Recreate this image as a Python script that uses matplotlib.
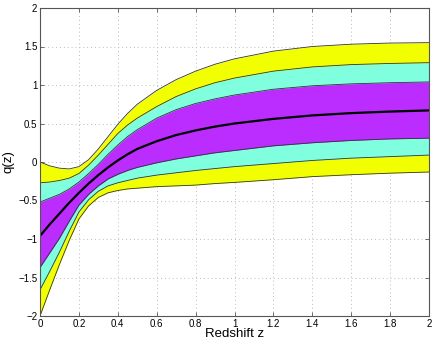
import matplotlib
matplotlib.use("Agg")
import matplotlib.pyplot as plt

z = [0, 0.05, 0.1, 0.15, 0.2, 0.25, 0.3, 0.35, 0.4, 0.45, 0.5, 0.6, 0.7, 0.8, 0.9, 1.0, 1.2, 1.4, 1.6, 1.8, 2.0]
q_up3 = [0.0, -0.05, -0.08, -0.09, -0.06, 0.03, 0.17, 0.33, 0.49, 0.63, 0.75, 0.93, 1.07, 1.18, 1.27, 1.34, 1.44, 1.50, 1.53, 1.545, 1.55]
q_up2 = [-0.27, -0.26, -0.24, -0.21, -0.15, -0.04, 0.09, 0.23, 0.37, 0.48, 0.57, 0.72, 0.85, 0.95, 1.03, 1.09, 1.18, 1.235, 1.265, 1.28, 1.29]
q_up1 = [-0.52, -0.47, -0.42, -0.35, -0.26, -0.15, -0.03, 0.10, 0.22, 0.33, 0.42, 0.57, 0.68, 0.76, 0.82, 0.87, 0.945, 0.99, 1.015, 1.03, 1.04]
q_mean = [-0.96, -0.81, -0.67, -0.53, -0.40, -0.28, -0.17, -0.07, 0.02, 0.10, 0.17, 0.27, 0.35, 0.41, 0.46, 0.50, 0.56, 0.605, 0.635, 0.655, 0.67]
q_lo1 = [-1.37, -1.18, -0.99, -0.77, -0.56, -0.42, -0.31, -0.22, -0.16, -0.11, -0.07, -0.01, 0.04, 0.08, 0.12, 0.15, 0.21, 0.25, 0.28, 0.30, 0.31]
q_lo2 = [-1.66, -1.42, -1.17, -0.90, -0.65, -0.49, -0.38, -0.31, -0.27, -0.24, -0.21, -0.17, -0.14, -0.11, -0.085, -0.06, -0.02, 0.02, 0.05, 0.07, 0.09]
q_lo3 = [-2.0, -1.66, -1.33, -1.02, -0.74, -0.57, -0.46, -0.40, -0.37, -0.35, -0.34, -0.32, -0.31, -0.30, -0.28, -0.265, -0.23, -0.19, -0.165, -0.145, -0.13]

xticks = [0, 0.2, 0.4, 0.6, 0.8, 1, 1.2, 1.4, 1.6, 1.8, 2]
yticks = [-2, -1.5, -1, -0.5, 0, 0.5, 1, 1.5, 2]

plt.rcParams['font.family'] = ['Liberation Sans', 'DejaVu Sans']

fig = plt.figure(figsize=(4.36, 3.44), dpi=100)
ax = fig.add_axes([40/436, 1-316/344, 389/436, 308/344])

yellow = '#f2ff00'
teal = '#7fffdd'
purple = '#bb2cff'
ax.fill_between(z, q_lo3, q_up3, color=yellow, lw=0, zorder=2)
ax.fill_between(z, q_lo2, q_up2, color=teal, lw=0, zorder=3)
ax.fill_between(z, q_lo1, q_up1, color=purple, lw=0, zorder=4)
for c in (q_lo3, q_up3, q_lo2, q_up2, q_lo1, q_up1):
    ax.plot(z, c, color='#333333', lw=0.6, zorder=5)
ax.plot(z, q_mean, color='black', lw=1.6, zorder=6)

ax.set_xlim(0, 2)
ax.set_ylim(-2, 2)
ax.set_xticks(xticks)
ax.set_xticklabels([f"{t:g}" for t in xticks])
ax.set_yticks(yticks)
ax.set_yticklabels([f"{t:g}".replace('-', '\u2212') for t in yticks])
ax.grid(True, linestyle=(0, (1, 3)), color='#bbbbbb', lw=0.7, zorder=1)
ax.set_axisbelow(True)
ax.tick_params(direction='in', top=True, right=True, labelsize=7, length=3,
               color='#555555', width=0.6, pad=2)
for s in ax.spines.values():
    s.set_color('#555555')
    s.set_linewidth(0.8)
    s.set_zorder(7)
ax.set_xlabel('Redshift z', fontsize=9.5)
ax.set_ylabel('q(z)', fontsize=9.5)
ax.xaxis.set_label_coords(0.5, -0.057, transform=ax.transAxes)
ax.yaxis.set_label_coords(-0.082, 0.5, transform=ax.transAxes)
ax.xaxis.label.set_va('center')
ax.yaxis.label.set_va('center')

fig.savefig('out.png', dpi=100)
